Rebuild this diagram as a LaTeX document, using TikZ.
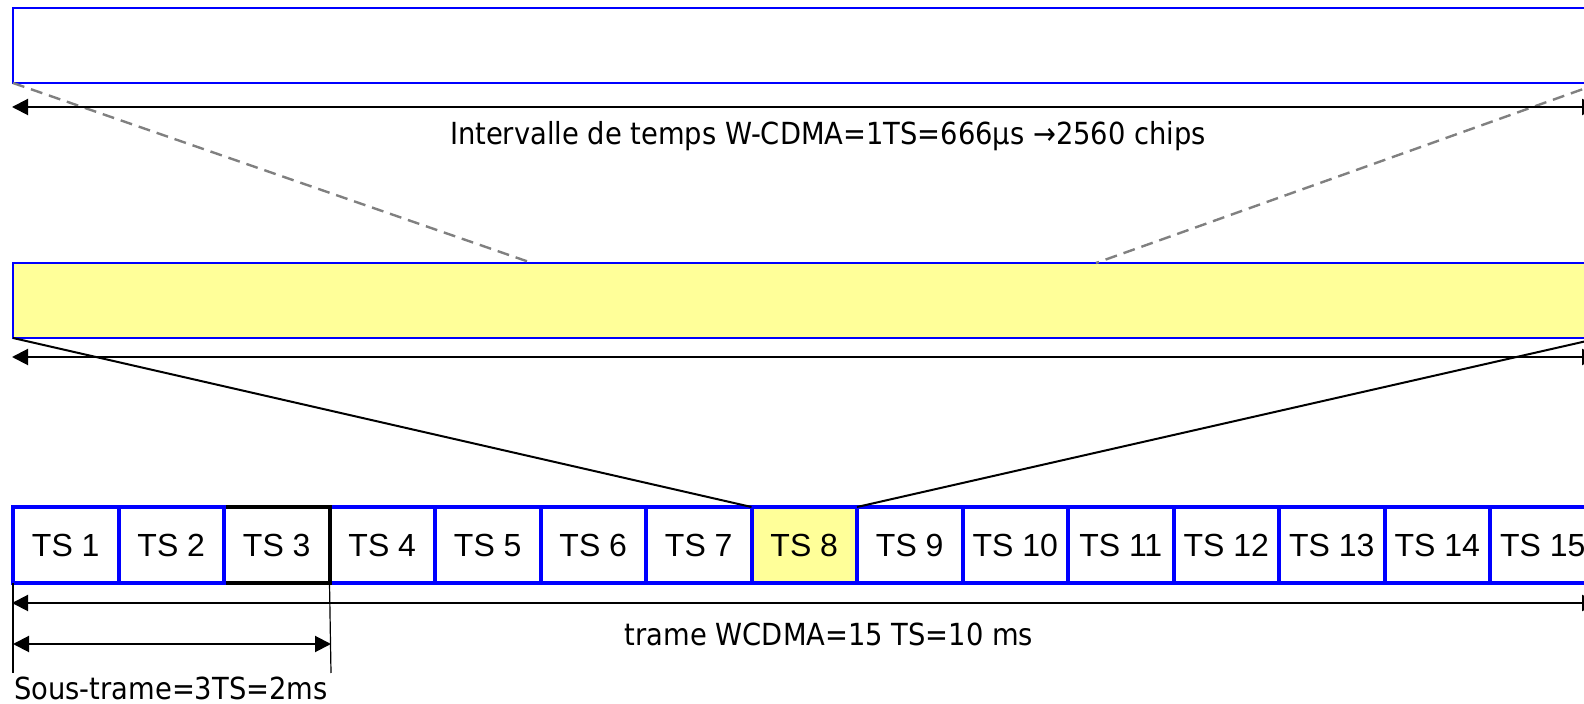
\documentclass[tikz,border=0pt]{standalone}
\usepackage{fontspec}
\setmainfont{Liberation Sans}
\newfontfamily\tahoma{DejaVu Sans Condensed}
\usetikzlibrary{arrows.meta}
\definecolor{slotblue}{HTML}{0000FF}
\definecolor{slotyellow}{HTML}{FFFF99}
\definecolor{dashgrey}{HTML}{808080}
\begin{document}
\begin{tikzpicture}[x=0.5pt,y=-0.5pt,
  bigbox/.style={draw=slotblue,line width=1.3pt,minimum width=793.5pt,minimum height=37.5pt,inner sep=0pt,outer sep=0pt,anchor=north west},
  tsbox/.style={draw=slotblue,line width=2pt,minimum width=52.75pt,minimum height=38pt,inner sep=0pt,outer sep=0pt,font=\fontsize{16}{18}\selectfont},
  dimline/.style={line width=1pt,{Triangle[length=8pt,width=8pt]}-{Triangle[length=8pt,width=8pt]}},
  thinline/.style={line width=0.6pt},
  zoomdash/.style={draw=dashgrey,line width=1.2pt,dash pattern=on 6pt off 3.5pt},
  zoomline/.style={line width=1pt},
  lbl/.style={font=\tahoma\fontsize{15.2}{18}\selectfont,inner sep=0pt},
  ]
\useasboundingbox (0,0) rectangle (1584,704);
\clip (0,0) rectangle (1584,704);
% big boxes
\node[bigbox] (slot) at (13,8) {};
\node[bigbox,fill=slotyellow] (ybox) at (13,263) {};
% TS boxes (draw order so TS3 shows black top/bottom/right)
\foreach \i in {4,...,7,9,10,...,15}{
  \node[tsbox] (ts\i) at ({13+(\i-0.5)*105.5},545) {TS \i};
}
\node[tsbox,fill=slotyellow] (ts8) at ({13+7.5*105.5},545) {TS 8};
\node[tsbox,draw=black] (ts3) at ({13+2.5*105.5},545) {TS 3};
\node[tsbox] (ts1) at ({13+0.5*105.5},545) {TS 1};
\node[tsbox] (ts2) at ({13+1.5*105.5},545) {TS 2};
% coordinates
\coordinate (zl) at (532,263);
\coordinate (zr) at (1096,263);
\coordinate (a1l) at (12,107);
\coordinate (a1r) at (1598,107);
\coordinate (a2l) at (12,357);
\coordinate (a2r) at (1598,357);
\coordinate (a3l) at (12,603);
\coordinate (a3r) at (1598,603);
\coordinate (a4l) at (13,644);
\coordinate (a4r) at (331,644);
\coordinate (v1) at (13,673);
\coordinate (v2) at (331,673);
% zoom lines
\draw[zoomdash] (slot.south west) -- (zl);
\draw[zoomdash] (slot.south east) -- (zr);
\draw[zoomline] (ybox.south west) -- (ts8.north west);
\draw[zoomline] (ybox.south east) -- (ts8.north east);
% dimension lines
\draw[dimline] (a1l) -- (a1r);
\draw[dimline] (a2l) -- (a2r);
\draw[dimline] (a3l) -- (a3r);
\draw[thinline] (ts1.south west) -- (v1);
\draw[thinline] (ts3.south east) -- (v2);
\draw[dimline] (a4l) -- (a4r);
% labels
\node[lbl] (t1) at (828,136) {Intervalle de temps W-CDMA=1TS=666µs →2560 chips};
\node[lbl] (t2) at (829,634) {trame WCDMA=15 TS=10 ms};
\node[lbl] (t3) at (171,688) {Sous-trame=3TS=2ms};
\end{tikzpicture}
\end{document}
